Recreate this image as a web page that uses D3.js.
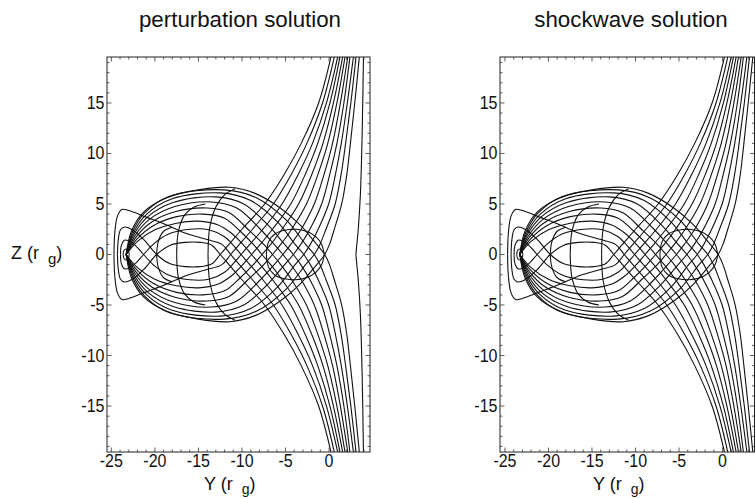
<!DOCTYPE html>
<html><head><meta charset="utf-8">
<script src="https://cdn.jsdelivr.net/npm/d3@7"></script>
<style>
body{margin:0;background:#fff}
text{font-family:"Liberation Sans",Arial,Helvetica,sans-serif;fill:#111}
</style></head>
<body><svg id="c" width="755" height="499"></svg>
<script>
// ---------- data ----------
const yTickValues = [-25,-20,-15,-10,-5,0];
const zTickValues = [-15,-10,-5,0,5,10,15];
const panelTitles = ["perturbation solution","shockwave solution"];
// ray paths [Y, Z]; every path is also drawn mirrored in Z
const loopRays = [
 [[-24.3,0],[-24.2,1.5],[-23.95,2.45],[-23.5,2.72],[-22.7,2.5],[-21.3,1.5],[-19.8,0],[-18.3,-0.9],[-16.5,-1.2],[-14.8,-1.2],[-13.5,-0.95],[-12.5,0],
  [-11.5,1],[-10.0,2.5],[-7.4,5],[-5.1,8],[-3.2,11],[-1.2,15],[0.23,19.6]],
 [[-24.7,0],[-24.6,2.2],[-24.3,3.8],[-23.8,4.45],[-23,4.35],[-21,3.7],[-18.7,2.95],[-16.3,2.05],[-14.1,1.5],[-12.3,1.0],[-11.3,0],
  [-10.3,-1],[-8.8,-2.5],[-6.4,-5],[-4.3,-8],[-2.55,-11],[-0.75,-15],[0.61,-19.6]],
 [[-23.95,0],[-23.85,0.9],[-23.5,1.42],[-23.0,1.35],[-22.2,0.85],[-21.3,0],[-20.2,-1.0],[-18.5,-2.0],[-16,-2.5],[-13.8,-2.45],[-12,-1.75],[-11.1,-1.0],[-10.1,0],
  [-9.1,1],[-7.6,2.5],[-5.4,5],[-3.5,8],[-1.9,11],[-0.3,15],[1.0,19.6]],
 [[-23.65,0],[-23.55,0.4],[-23.3,0.55],[-23.05,0.4],[-22.95,0]]
];
const sourceRays = [
 [[-23.3,0],[-22,1.3],[-20,2.45],[-17.5,3.1],[-15,3.3],[-12.8,2.95],[-11.2,2.1],[-9.9,1.0],[-8.9,0],
  [-7.9,-1],[-6.5,-2.5],[-4.4,-5],[-2.7,-8],[-1.3,-11],[0.1,-15],[1.26,-19.6]],
 [[-23.3,0],[-22.1,1.5],[-20.2,2.85],[-17.5,3.75],[-14.5,4.0],[-12,3.6],[-10.2,2.3],[-8.7,1.0],[-7.7,0],
  [-6.7,-1],[-5.4,-2.5],[-3.5,-5],[-1.95,-8],[-0.7,-11],[0.5,-15],[1.57,-19.6]],
 [[-23.3,0],[-22.2,1.7],[-20.4,3.2],[-17.6,4.25],[-14,4.6],[-11.5,4.15],[-9.2,2.4],[-7.5,1.0],[-6.5,0],
  [-5.55,-1],[-4.3,-2.5],[-2.6,-5],[-1.25,-8],[-0.15,-11],[0.9,-15],[1.84,-19.6]],
 [[-23.3,0],[-22.3,1.85],[-20.6,3.5],[-17.7,4.75],[-13.5,5.2],[-10.6,4.6],[-8,2.6],[-6.3,1.0],[-5.3,0],
  [-4.4,-1],[-3.2,-2.5],[-1.7,-5],[-0.55,-8],[0.4,-11],[1.3,-15],[2.15,-19.6]],
 [[-23.3,0],[-22.4,2.0],[-20.8,3.75],[-17.9,5.15],[-13,5.7],[-9.8,5.0],[-7.0,2.9],[-5.1,1.0],[-4.1,0],
  [-3.25,-1],[-2.2,-2.5],[-0.85,-5],[0.1,-8],[0.9,-11],[1.7,-15],[2.4,-19.6]],
 [[-23.3,0],[-22.5,2.1],[-21,3.95],[-18.1,5.5],[-12.5,6.1],[-9.0,5.35],[-5.9,3.2],[-3.9,1.0],[-2.9,0],
  [-2.15,-1],[-1.25,-2.5],[-0.05,-5],[0.75,-8],[1.4,-11],[2.1,-15],[2.8,-19.6]],
 [[-23.3,0],[-22.6,2.2],[-21.2,4.1],[-18.4,5.75],[-12,6.4],[-8.3,5.6],[-4.9,3.4],[-2.7,1.0],[-1.7,0],
  [-1.05,-1],[-0.35,-2.5],[0.7,-5],[1.4,-8],[1.9,-11],[2.5,-15],[3.1,-19.6]],
 [[-23.3,0],[-22.7,2.3],[-21.3,4.2],[-18.7,5.6],[-15,6.4],[-11.4,6.65],[-8.5,6.05],[-5.6,4.6],[-3.3,2.9],[-1.8,1.4],[-0.5,0],
  [0.05,-1],[0.6,-2.5],[1.45,-5],[2.05,-8],[2.45,-11],[2.95,-15],[3.48,-19.6]]
];
// wavefront arcs (upper halves)
const arcs = [
 [[-19.8,0],[-19.6,1.3],[-19.0,2.3],[-18.0,2.7]],
 [[-17.5,0],[-17.3,2.3],[-16.6,3.9],[-15.5,4.7],[-14.2,5.0]],
 [[-13.9,0],[-13.7,2.7],[-13.0,4.7],[-12.0,5.9],[-10.8,6.5]],
 [[-7.2,0],[-6.95,1.25],[-6.2,2.05],[-5.1,2.4],[-3.85,2.5],[-2.6,2.3],[-1.5,1.75],[-0.85,1.0],[-0.55,0]]
];
// near-vertical line (perturbation panel only)
const edgeLine = [[3.95,19.6],[3.8,12],[3.6,6],[3.35,2.5],[3.12,0.4],[3.08,0]];

// ---------- layout ----------
const panels = [
 {title:panelTitles[0], x0:107, x1:370, dom:[-25.5,4.7], titleX:240, edge:true, xlabX:234},
 {title:panelTitles[1], x0:500, x1:754.5, dom:[-25.57,3.67], titleX:631, edge:false, xlabX:623}
];
const yTop = 57, yBot = 452;
const svg = d3.select("#c");
const mirror = p => p.map(d=>[d[0],-d[1]]);

panels.forEach((P,i)=>{
  const x = d3.scaleLinear().domain(P.dom).range([P.x0,P.x1]);
  const y = d3.scaleLinear().domain([-19.55,19.55]).range([yBot,yTop]);
  const g = svg.append("g");
  const cid = "clip"+i;
  svg.append("clipPath").attr("id",cid).append("rect")
    .attr("x",P.x0).attr("y",yTop).attr("width",P.x1-P.x0).attr("height",yBot-yTop);
  const line = d3.line().x(d=>x(d[0])).y(d=>y(d[1])).curve(d3.curveCatmullRom.alpha(0.5));
  const cg = g.append("g").attr("clip-path",`url(#${cid})`)
    .attr("fill","none").attr("stroke","#111").attr("stroke-width",1.1);
  let all = [];
  [...loopRays, ...sourceRays, ...arcs].forEach(r=>{all.push(r); all.push(mirror(r));});
  if(P.edge){all.push(edgeLine); all.push(mirror(edgeLine));}
  cg.selectAll("path").data(all).join("path").attr("d",line);

  // frame
  g.append("rect").attr("x",P.x0).attr("y",yTop).attr("width",P.x1-P.x0).attr("height",yBot-yTop)
    .attr("fill","none").attr("stroke","#222").attr("stroke-width",1);
  // ticks (inward)
  const tk = g.append("g").attr("stroke","#333").attr("stroke-width",0.8);
  const xt = d3.range(Math.ceil(P.dom[0]), Math.floor(P.dom[1])+1);
  xt.forEach(v=>{
    const L = v%5===0?4.5:2.5;
    tk.append("line").attr("x1",x(v)).attr("x2",x(v)).attr("y1",yBot).attr("y2",yBot-L);
    tk.append("line").attr("x1",x(v)).attr("x2",x(v)).attr("y1",yTop).attr("y2",yTop+L);
  });
  const zt = d3.range(-19,20);
  zt.forEach(v=>{
    const L = v%5===0?4.5:2.5;
    tk.append("line").attr("y1",y(v)).attr("y2",y(v)).attr("x1",P.x0).attr("x2",P.x0+L);
    tk.append("line").attr("y1",y(v)).attr("y2",y(v)).attr("x1",P.x1).attr("x2",P.x1-L);
  });
  // tick labels
  yTickValues.forEach(v=>{
    const by = yBot+15.5;
    g.append("text").attr("x",x(v)).attr("y",by).attr("text-anchor","middle")
      .attr("font-size",16).attr("transform",`translate(0,${by}) scale(1,1.15) translate(0,${-by})`).text(v);
  });
  zTickValues.forEach(v=>{
    const by = y(v)+6;
    g.append("text").attr("x",P.x0-2.5).attr("y",by).attr("text-anchor","end")
      .attr("font-size",16).attr("transform",`translate(0,${by}) scale(1,1.15) translate(0,${-by})`).text(v);
  });
  // title
  g.append("text").attr("x",P.titleX).attr("y",27).attr("text-anchor","middle")
    .attr("font-size",22.3).text(P.title);
  // x label
  const xl = g.append("text").attr("x",P.xlabX-30).attr("y",490).attr("font-size",18);
  xl.append("tspan").text("Y (r");
  xl.append("tspan").attr("dx",9).attr("dy",3.5).attr("font-size",14).text("g");
  xl.append("tspan").attr("dy",-3.5).text(")");
});
// z label
const zl = svg.append("text").attr("x",11).attr("y",259).attr("font-size",18);
zl.append("tspan").text("Z (r");
zl.append("tspan").attr("dx",9).attr("dy",5).attr("font-size",15).text("g");
zl.append("tspan").attr("dy",-5).text(")");
</script>
</body></html>
